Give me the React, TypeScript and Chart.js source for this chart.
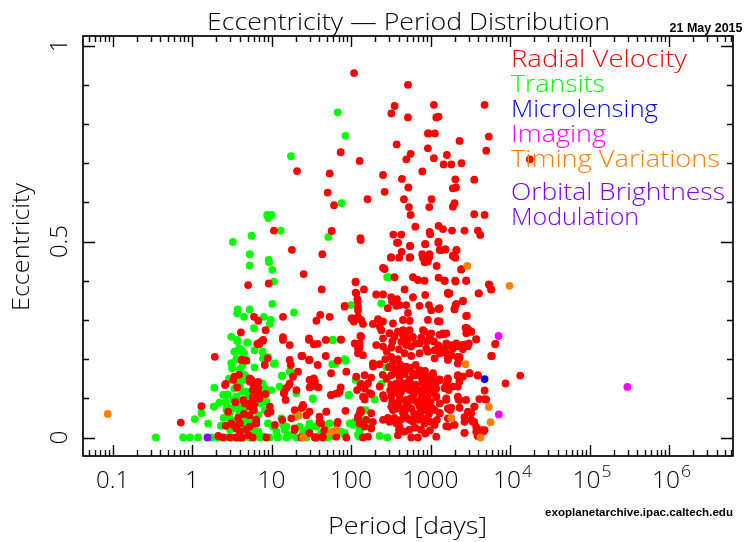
import { useEffect, useRef } from "react";
import { Chart, registerables } from "chart.js";

Chart.register(...registerables);

// [period in days, eccentricity]
const radialVelocity: [number, number][] = [
  [109, 0.93], [520, 0.9], [353, 0.846], [321, 0.827], [519, 0.817], [925, 0.776], [925, 0.738], [374, 0.748],
  [74, 0.728], [561, 0.724], [495, 0.71], [128, 0.706], [20.9, 0.68], [53.8, 0.674], [252, 0.67], [787, 0.679],
  [436, 0.66], [525, 0.638], [50.7, 0.625], [264, 0.627], [161, 0.608], [462, 0.608], [61, 0.593], [534, 0.588],
  [561, 0.568], [642, 0.538], [10.7, 0.528], [57, 0.527], [131, 0.509], [18, 0.479], [43.5, 0.468], [340, 0.518],
  [428, 0.518], [378, 0.497], [550, 0.489], [857, 0.493], [432, 0.474], [316, 0.459], [402, 0.459], [543, 0.459],
  [801, 0.459], [4775, 0.849], [1100, 0.849], [1178, 0.817], [1260, 0.819], [5400, 0.768], [944, 0.776],
  [1132, 0.776], [2312, 0.757], [5010, 0.732], [1100, 0.713], [1603, 0.721], [1456, 0.697], [1820, 0.697],
  [2450, 0.7], [2047, 0.659], [3540, 0.658], [1905, 0.636], [2090, 0.638], [1028, 0.608], [962, 0.588],
  [2000, 0.598], [1905, 0.589], [3540, 0.57], [4775, 0.568], [1260, 0.54], [1430, 0.532], [971, 0.525],
  [1860, 0.528], [2673, 0.528], [3930, 0.528], [4210, 0.517], [988, 0.519], [1260, 0.5], [1297, 0.479],
  [1530, 0.48], [2120, 0.479], [960, 0.46], [2050, 0.459], [17700, 0.71],
  [1905, 0.463], [2430, 0.429], [1496, 0.4], [2040, 0.4], [2810, 0.4], [5510, 0.389], [5800, 0.378], [4010, 0.368],
  [1650, 0.368], [1680, 0.366], [2550, 0.349], [2060, 0.338], [2000, 0.327], [1300, 0.33], [2860, 0.311],
  [1300, 0.296], [2750, 0.28], [3020, 0.274], [3245, 0.27], [3750, 0.251], [6560, 0.239], [1370, 0.263],
  [1580, 0.266], [1575, 0.24], [1820, 0.236], [2100, 0.24], [2430, 0.236], [2670, 0.237], [3030, 0.24],
  [5890, 0.208], [1300, 0.215], [1575, 0.215], [1820, 0.21], [2200, 0.206], [2300, 0.202], [1650, 0.198],
  [2200, 0.189], [13400, 0.158], [3090, 0.164], [3930, 0.158], [8770, 0.138], [1650, 0.147], [2200, 0.157],
  [2300, 0.142], [1300, 0.147], [4775, 0.12], [1500, 0.126], [1680, 0.121], [1575, 0.096], [2250, 0.097],
  [2300, 0.096], [4100, 0.098], [4775, 0.098], [1300, 0.087], [1820, 0.076], [1760, 0.07], [3540, 0.079],
  [3245, 0.062], [1650, 0.049], [1820, 0.049], [2670, 0.052], [3245, 0.045], [3540, 0.04], [1575, 0.029],
  [1680, 0.028], [4100, 0.019], [4775, 0.019], [2670, 0.012], [3900, 0.004],
  [132, 0.504], [390, 0.497], [555, 0.489], [857, 0.494], [1250, 0.497], [1335, 0.478], [1540, 0.48], [2100, 0.477],
  [1905, 0.464], [320, 0.46], [555, 0.46], [785, 0.468], [970, 0.468], [925, 0.449], [840, 0.447], [1190, 0.438],
  [2430, 0.429], [252, 0.433], [264, 0.43], [352, 0.409], [600, 0.409], [692, 0.402], [840, 0.4], [1260, 0.408],
  [1500, 0.4], [2060, 0.398], [2800, 0.4], [5400, 0.391], [5780, 0.378], [114, 0.398], [145, 0.378], [114, 0.37],
  [207, 0.365], [252, 0.365], [320, 0.358], [377, 0.353], [327, 0.347], [408, 0.338], [471, 0.378], [600, 0.358],
  [857, 0.364], [1650, 0.37], [1730, 0.368], [2550, 0.348], [2100, 0.341], [2000, 0.328], [4050, 0.368],
  [83, 0.336], [120, 0.353], [122, 0.334], [122, 0.325], [290, 0.33], [370, 0.336], [494, 0.338], [519, 0.318],
  [726, 0.336], [953, 0.338], [1019, 0.325], [1260, 0.328], [2800, 0.31], [101, 0.304], [111, 0.3], [122, 0.308],
  [188, 0.29], [218, 0.302], [252, 0.296], [336, 0.291], [449, 0.3], [545, 0.298], [925, 0.3], [1235, 0.297],
  [2885, 0.279], [3240, 0.27], [3750, 0.25], [134, 0.257], [111, 0.24], [126, 0.227], [240, 0.274], [252, 0.253],
  [305, 0.266], [352, 0.257], [388, 0.27], [449, 0.262], [494, 0.257], [545, 0.274], [840, 0.27], [1019, 0.266],
  [1297, 0.262], [1500, 0.264], [75, 0.25], [207, 0.236], [252, 0.232], [320, 0.23], [428, 0.244], [494, 0.236],
  [571, 0.232], [726, 0.24], [881, 0.227], [1122, 0.223], [1361, 0.227], [1574, 0.233], [1905, 0.227],
  [2203, 0.233], [2547, 0.225], [2944, 0.233], [6490, 0.238], [5780, 0.208], [87, 0.168], [141, 0.21],
  [188, 0.189], [228, 0.187], [320, 0.206], [388, 0.2], [571, 0.208], [726, 0.215], [925, 0.219], [1122, 0.202],
  [1650, 0.202], [2203, 0.204], [148, 0.159], [179, 0.153], [320, 0.159], [352, 0.165], [408, 0.155], [471, 0.162],
  [545, 0.148], [630, 0.159], [762, 0.165], [899, 0.155], [1069, 0.159], [1297, 0.148], [1650, 0.151],
  [2203, 0.159], [3090, 0.164], [3930, 0.159], [134, 0.137], [148, 0.125], [320, 0.134], [370, 0.13], [449, 0.138],
  [519, 0.125], [660, 0.134], [800, 0.14], [970, 0.13], [1178, 0.125], [1574, 0.134], [2203, 0.13], [179, 0.111],
  [148, 0.097], [252, 0.108], [320, 0.106], [408, 0.108], [494, 0.096], [600, 0.104], [762, 0.1], [925, 0.108],
  [1178, 0.104], [1574, 0.1], [2203, 0.104], [2800, 0.096], [5000, 0.097], [179, 0.062], [128, 0.062],
  [320, 0.079], [388, 0.074], [471, 0.066], [571, 0.074], [726, 0.062], [925, 0.079], [1122, 0.07], [1297, 0.062],
  [1650, 0.074], [2312, 0.076], [2944, 0.066], [3573, 0.079], [188, 0.04], [305, 0.04], [408, 0.027], [600, 0.04],
  [840, 0.036], [1122, 0.032], [2000, 0.032], [2673, 0.04], [3400, 0.04], [3750, 0.027], [4540, 0.019],
  [179, 0.023], [163, 0.002], [388, 0.006], [571, 0], [692, 0], [1178, 0.002], [2673, 0.012], [3750, 0.015],
  [4630, 0.016],
  [336, 0.189], [408, 0.172], [495, 0.181], [600, 0.164], [728, 0.172], [883, 0.155], [1071, 0.164], [1300, 0.147],
  [371, 0.138], [450, 0.13], [545, 0.121], [661, 0.13], [802, 0.113], [972, 0.121], [1180, 0.104], [408, 0.096],
  [495, 0.087], [600, 0.096], [728, 0.079], [883, 0.087], [336, 0.07], [450, 0.062], [545, 0.045], [661, 0.053],
  [371, 0.036], [1300, 0.062], [229, 0.283], [305, 0.266], [450, 0.274], [600, 0.257], [802, 0.274], [972, 0.257],
  [1430, 0.266], [1910, 0.232], [2810, 0.266], [2316, 0.206], [2553, 0.155], [1910, 0.13], [189, 0.181],
  [229, 0.13], [171, 0.113], [252, 0.045],
  [300, 0.18], [350, 0.175], [420, 0.185], [480, 0.17], [550, 0.178], [650, 0.185], [700, 0.16], [780, 0.15],
  [850, 0.17], [950, 0.14], [1050, 0.15], [1150, 0.135], [310, 0.12], [360, 0.115], [430, 0.118], [520, 0.14],
  [580, 0.135], [640, 0.115], [720, 0.12], [830, 0.125], [900, 0.1], [1000, 0.09], [1100, 0.115], [330, 0.09],
  [390, 0.085], [470, 0.075], [520, 0.08], [560, 0.1], [680, 0.09], [760, 0.085], [820, 0.07], [950, 0.06],
  [1050, 0.075], [350, 0.05], [420, 0.045], [500, 0.05], [620, 0.06], [700, 0.045], [780, 0.05], [880, 0.045],
  [1000, 0.04], [1200, 0.045], [400, 0.02], [470, 0.015], [540, 0.02], [640, 0.025], [760, 0.02], [860, 0.01],
  [980, 0.018], [280, 0.15], [260, 0.1], [270, 0.2], [290, 0.05], [250, 0.16], [280, 0.22], [330, 0.245],
  [400, 0.225], [470, 0.215], [520, 0.25], [650, 0.24], [760, 0.255], [900, 0.245], [1100, 0.245], [1250, 0.235],
  [25.3, 0.417], [5.06, 0.389], [9.2, 0.393], [42.7, 0.378], [114, 0.396], [116, 0.368], [121, 0.347], [83, 0.334],
  [6.0, 0.308], [6.8, 0.298], [13.9, 0.308], [41, 0.313], [36.6, 0.298], [53.7, 0.308], [104, 0.304], [108, 0.296],
  [134, 0.3], [141, 0.29], [8.4, 0.274], [4.1, 0.268], [7.8, 0.247], [7.0, 0.238], [13.9, 0.256], [29.5, 0.253],
  [34, 0.238], [48, 0.249], [74, 0.25], [131, 0.259], [128, 0.24], [122, 0.228], [1.93, 0.206], [4.25, 0.198],
  [4.8, 0.196], [8.9, 0.202], [8.2, 0.185], [16.9, 0.198], [24.4, 0.208], [30, 0.198], [38, 0.185], [48, 0.208],
  [116, 0.155], [134, 0.134], [119, 0.121], [2.6, 0.134], [3.3, 0.147], [3.7, 0.128], [5.3, 0.151],
  [5.8, 0.138], [6.8, 0.142], [6.3, 0.13], [8.4, 0.111], [14.3, 0.114], [16.6, 0.134], [15, 0.096], [18.6, 0.155],
  [21.5, 0.168], [31, 0.147], [34, 0.151], [30, 0.128], [39, 0.128], [56, 0.108], [65, 0.112], [74, 0.128],
  [131, 0.134], [1.31, 0.08], [0.72, 0.038], [2.65, 0.03], [3.1, 0.036], [3.6, 0.023], [4.0, 0.015], [5.3, 0.028],
  [4.4, 0.096], [5.3, 0.057], [6.1, 0.087], [6.4, 0.036], [9.0, 0.062], [13.6, 0.045], [17.7, 0.049], [19.5, 0.019],
  [24.8, 0.079], [27.4, 0.057], [42, 0.036], [46, 0.019], [40, 0.053], [67, 0.036], [122, 0.049], [85, 0.068],
  [131, 0.07], [141, 0.104], [2.45, 0], [3.0, 0], [3.6, 0], [4.2, 0], [5.8, 0], [8.6, 0], [23.7, 0], [36.6, 0],
  [44, 0], [87, 0], [141, 0], [3.8, 0.05], [4.5, 0.06], [3.5, 0.09],
  [4.2, 0.198], [6.6, 0.239], [3.9, 0.16], [3.4, 0.155], [5.6, 0.147], [6.4, 0.138], [5.8, 0.121], [6.8, 0.113],
  [2.65, 0.137], [4.6, 0.087], [2.84, 0.066], [5.3, 0.087], [5.8, 0.074], [6.4, 0.045], [3.3, 0.032], [4.0, 0.036],
  [4.8, 0.021], [2.13, 0.004], [4.0, 0], [5.1, 0.006],
  [7.1, 0.242], [7.8, 0.249], [16.9, 0.236], [13.9, 0.249], [29.6, 0.249], [38, 0.239], [128, 0.232], [122, 0.215],
  [23.7, 0.208], [29.6, 0.198], [68, 0.196], [17.4, 0.185], [56, 0.164], [5.3, 0.143], [6.1, 0.138],
  [6.8, 0.126], [16.9, 0.138], [15.3, 0.126], [30, 0.147], [35, 0.143], [31.6, 0.13], [20.5, 0.121], [163, 0.138],
  [56, 0.109], [68, 0.113], [72, 0.117], [14.3, 0.113], [5.8, 0.104], [7.1, 0.1], [5.3, 0.079], [6.0, 0.07],
  [9.5, 0.079], [9.7, 0.066], [19.5, 0.07], [23.7, 0.075], [30, 0.066], [24.8, 0.083], [48.8, 0.066], [134, 0.066],
  [155, 0.045], [122, 0.053], [128, 0.036], [148, 0.028], [6.4, 0.036], [11, 0.032], [19.5, 0.023],
  [30, 0.011], [35, 0], [40, 0.04], [44, 0.002], [65, 0.002], [68, 0.04],
];

const transits: [number, number][] = [
  [68, 0.83], [85, 0.77], [17.5, 0.718], [76, 0.598], [8.8, 0.568], [10, 0.568], [9.1, 0.56], [13, 0.528],
  [5.6, 0.515], [3.25, 0.499], [5.3, 0.468], [9.2, 0.453], [51.8, 0.512],
  [5.3, 0.439], [9.3, 0.447], [10.2, 0.428], [10.7, 0.398], [10.2, 0.341], [19.1, 0.319], [3.75, 0.327],
  [3.68, 0.317], [5.3, 0.327], [4.5, 0.308], [8.0, 0.308], [9.75, 0.3], [9.5, 0.29], [6.0, 0.279], [3.1, 0.257],
  [3.7, 0.249], [5.0, 0.243], [58, 0.249], [3.4, 0.219], [3.9, 0.228], [4.5, 0.215], [6.1, 0.223], [7.8, 0.202],
  [10.7, 0.188], [85, 0.198], [58, 0.187], [3.2, 0.176], [4.0, 0.175], [3.9, 0.16], [4.5, 0.148], [7.4, 0.13],
  [9.9, 0.121], [13.5, 0.157], [12.6, 0.13], [16.9, 0.168], [20.5, 0.113], [37.6, 0.128], [33, 0.1], [93, 0.108],
  [114, 0.147], [1.31, 0.062], [1.9, 0.079], [2.2, 0.089], [1.59, 0.036], [1.08, 0.047], [2.65, 0.091],
  [2.75, 0.079], [2.98, 0.062], [3.1, 0.045], [3.6, 0.104], [3.7, 0.083], [4.2, 0.07], [4.4, 0.053], [4.0, 0.036],
  [4.8, 0.036], [5.3, 0.045], [5.8, 0.019], [7.1, 0.087], [8.2, 0.07], [9.0, 0.036], [10.4, 0.028], [11.5, 0.015],
  [15.3, 0.028], [20.5, 0.053], [30, 0.036], [33, 0.028], [48.8, 0.032], [111, 0.036], [132, 0.023],
  [0.35, 0], [0.77, 0], [0.94, 0], [1.19, 0], [1.75, 0], [2.12, 0], [2.7, 0], [3.4, 0], [4.4, 0], [5.3, 0],
  [7.1, 0], [9.5, 0], [12, 0], [15.3, 0], [20.5, 0], [27.4, 0], [35, 0], [49, 0],
  [3.7, 0.246], [4.9, 0.242], [3.5, 0.219], [4.2, 0.223], [4.4, 0.211], [4.8, 0.198], [3.2, 0.179], [3.8, 0.147],
  [3.6, 0.13], [4.2, 0.117], [1.9, 0.127], [2.45, 0.109], [3.3, 0.096], [4.8, 0.117], [1.87, 0.079],
  [2.7, 0.07], [2.9, 0.053], [4.4, 0.032],
  [3.0, 0.02], [3.5, 0.03], [4.1, 0.015], [2.8, 0.11], [3.4, 0.125], [4.0, 0.13], [4.6, 0.16], [3.1, 0.19],
  [3.6, 0.2], [4.3, 0.185], [2.9, 0.15], [5.0, 0.1], [3.9, 0.06], [3.3, 0.075], [2.5, 0.05], [2.3, 0.03],
  [4.6, 0.075],
  [59, 0.249], [7.7, 0.219], [9.0, 0.205], [11, 0.189], [6.1, 0.179], [13.5, 0.158], [17.7, 0.166], [64, 0.188],
  [85, 0.196], [7.7, 0.138], [8.2, 0.126], [38, 0.128], [116, 0.149], [94, 0.109], [33, 0.098], [8.2, 0.113],
  [8.6, 0.092], [6.8, 0.058], [152, 0.07], [96, 0.036], [128, 0.019], [122, 0.007], [128, 0.002], [148, 0.045],
  [5.8, 0.045], [5.3, 0.015], [6.8, 0.015], [7.8, 0.002], [13.3, 0.049], [13.9, 0.032], [14.6, 0.019], [12, 0.002],
  [16.9, 0.006], [22.5, 0.028], [24.8, 0.011], [28.7, 0.023], [36.6, 0.028], [42.3, 0.011], [48.8, 0.066],
  [53.7, 0.036], [53.7, 0.002], [75, 0.015],
  [285, 0.409], [299, 0.409], [99, 0.338], [240, 0.342], [83, 0.2], [277, 0.179], [116, 0.151], [240, 0.137],
  [198, 0.097], [138, 0.07], [111, 0.04], [106, 0.032], [83, 0.012], [79, 0.01], [179, 0.029], [128, 0.012],
  [228, 0.004], [285, 0],
];

const microlensing: [number, number][] = [[4775, 0.149]];

const imaging: [number, number][] = [[299000, 0.129], [7160, 0.259], [7210, 0.059]];

const timingVariations: [number, number][] = [
  [0.087, 0.06], [2890, 0.438], [9840, 0.387], [2755, 0.187], [5400, 0.078], [5680, 0.039], [4250, 0],
  [1815, 0.049], [22, 0.056], [25, 0], [56, 0.015], [65, 0.019],
];

const orbitalBrightnessModulation: [number, number][] = [[1.56, 0]];

const xTickValues = [0.1, 1, 10, 100, 1000, 1e4, 1e5, 1e6];
const xTickLabels = ["0.1", "1", "10", "100", "1000", "10^4", "10^5", "10^6"];
const yTickValues = [0, 0.5, 1];
const yTickLabels = ["0", "0.5", "1"];

const legendLines: [string, string][] = [
  ["Radial Velocity", "#ff0000"],
  ["Transits", "#00ff00"],
  ["Microlensing", "#0000ff"],
  ["Imaging", "#ff00ff"],
  ["Timing Variations", "#ff8000"],
  ["Orbital Brightness", "#8000ff"],
  ["Modulation", "#8000ff"],
];

const FONT = '"Open Sans", "Liberation Sans", Arial, sans-serif';
const LIGHT = "300";

// Draws text squeezed/stretched horizontally to a given width.
function fitText(
  ctx: CanvasRenderingContext2D,
  text: string,
  x: number,
  y: number,
  size: number,
  width: number,
  align: "left" | "center" | "right" = "left",
  weight = LIGHT,
  family = FONT
) {
  ctx.save();
  ctx.font = `${weight} ${size}px ${family}`;
  const w = ctx.measureText(text).width;
  const sx = width / w;
  let x0 = x;
  if (align === "center") x0 = x - width / 2;
  else if (align === "right") x0 = x - width;
  ctx.translate(x0, y);
  ctx.scale(sx, 1);
  ctx.textAlign = "left";
  ctx.textBaseline = "alphabetic";
  ctx.fillText(text, 0, 0);
  ctx.restore();
}

const framePlugin = {
  id: "pgFrame",
  afterDraw(chart: any) {
    const { ctx, chartArea: a } = chart;
    const xs = chart.scales.x;
    const ys = chart.scales.y;
    ctx.save();
    ctx.strokeStyle = "#000";
    ctx.fillStyle = "#000";

    // box
    ctx.lineWidth = 1.7;
    ctx.strokeRect(a.left, a.top, a.right - a.left, a.bottom - a.top);

    // logarithmic ticks on top and bottom
    ctx.lineWidth = 1.4;
    const kLo = Math.floor(Math.log10(xs.min));
    const kHi = Math.ceil(Math.log10(xs.max));
    ctx.beginPath();
    for (let k = kLo; k <= kHi; k++) {
      for (let m = 1; m <= 9; m++) {
        const v = m * Math.pow(10, k);
        if (v < xs.min || v > xs.max) continue;
        const px = Math.round(xs.getPixelForValue(v)) + 0.5;
        const len = m === 1 ? 11 : 6;
        ctx.moveTo(px, a.bottom);
        ctx.lineTo(px, a.bottom - len);
        ctx.moveTo(px, a.top);
        ctx.lineTo(px, a.top + len);
      }
    }
    // linear ticks on left and right
    for (let i = 0; i <= 10; i++) {
      const v = i / 10;
      const py = Math.round(ys.getPixelForValue(v)) + 0.5;
      const len = i % 5 === 0 ? 12 : 6;
      ctx.moveTo(a.left, py);
      ctx.lineTo(a.left + len, py);
      ctx.moveTo(a.right, py);
      ctx.lineTo(a.right - len, py);
    }
    ctx.stroke();

    // x tick labels
    xTickValues.forEach((v, i) => {
      const label = xTickLabels[i];
      const px = xs.getPixelForValue(v);
      const base = 488;
      if (label.includes("^")) {
        const [b, e] = label.split("^");
        const wb = 28;
        const we = 10;
        const x0 = px - (wb + we) / 2 + 2;
        fitText(ctx, b, x0, base, 24, wb, "left");
        fitText(ctx, e, x0 + wb + 1, base - 11, 17, we, "left");
      } else {
        const w = label.length === 3 && label.includes(".") ? 33 : label.length * 14;
        fitText(ctx, label, px, base, 24, w, "center");
      }
    });

    // y tick labels, rotated
    yTickValues.forEach((v, i) => {
      const py = ys.getPixelForValue(v);
      const label = yTickLabels[i];
      ctx.save();
      ctx.translate(67, py);
      ctx.rotate(-Math.PI / 2);
      const w = label.length === 3 ? 33 : 14;
      fitText(ctx, label, 0, 0, 24, w, "center");
      ctx.restore();
    });

    // axis titles
    fitText(ctx, "Period [days]", 407.5, 534, 24, 159, "center");
    ctx.save();
    ctx.translate(29, 247);
    ctx.rotate(-Math.PI / 2);
    fitText(ctx, "Eccentricity", 0, 0, 24, 128, "center");
    ctx.restore();

    // title and stamps
    fitText(ctx, "Eccentricity — Period Distribution", 408.5, 29.5, 23, 403, "center");
    const stamp = '"Liberation Sans", Arial, sans-serif';
    fitText(ctx, "21 May 2015", 742.5, 31.5, 12.5, 73, "right", "bold", stamp);
    fitText(ctx, "exoplanetarchive.ipac.caltech.edu", 733, 516, 11.5, 188, "right", "bold", stamp);

    // legend
    const widths = [176, 94, 147, 95, 209, 214, 128];
    const baselines = [67, 92, 117, 142, 167, 200, 225];
    legendLines.forEach(([text, color], i) => {
      ctx.fillStyle = color;
      fitText(ctx, text, 511, baselines[i], 23, widths[i], "left");
    });
    ctx.restore();
  },
};

function toPoints(list: [number, number][]) {
  return list.map(([p, e]) => ({ x: p, y: e }));
}

export default function App() {
  const canvasRef = useRef<HTMLCanvasElement | null>(null);

  useEffect(() => {
    const canvas = canvasRef.current;
    if (!canvas) return;
    const series: [string, [number, number][], string][] = [
      ["Timing Variations", timingVariations, "#ff8000"],
      ["Imaging", imaging, "#ff00ff"],
      ["Microlensing", microlensing, "#0000ff"],
      ["Orbital Brightness Modulation", orbitalBrightnessModulation, "#8000ff"],
      ["Radial Velocity", radialVelocity, "#ff0000"],
      ["Transits", transits, "#00ff00"],
    ];
    const chart = new Chart(canvas, {
      type: "scatter",
      data: {
        datasets: series.map(([label, list, color]) => ({
          label,
          data: toPoints(list),
          backgroundColor: color,
          borderColor: color,
          pointRadius: 3.9,
          pointHoverRadius: 3.9,
          pointBorderWidth: 0,
          borderWidth: 0,
        })),
      },
      options: {
        animation: false,
        responsive: false,
        devicePixelRatio: 1,
        events: [],
        layout: { padding: { left: 83, top: 36, right: 12, bottom: 86 } },
        plugins: { legend: { display: false }, tooltip: { enabled: false } },
        scales: {
          x: { type: "logarithmic", min: 0.0424, max: 6.37e6, display: false },
          y: { type: "linear", min: -0.0472, max: 1.0247, display: false },
        },
      },
      plugins: [framePlugin],
    });
    return () => chart.destroy();
  }, []);

  return (
    <div style={{ position: "fixed", left: 0, top: 0, width: 745, height: 542, background: "#fff" }}>
      <canvas ref={canvasRef} width={745} height={542} />
    </div>
  );
}
